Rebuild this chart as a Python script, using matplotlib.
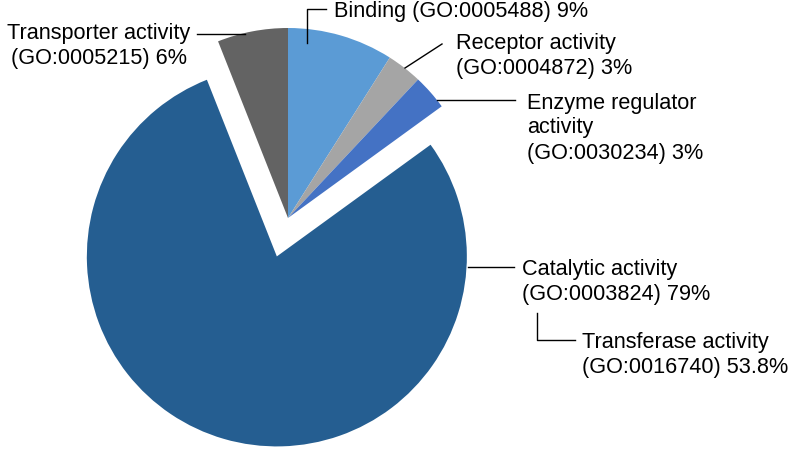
import matplotlib
matplotlib.use('Agg')
import matplotlib.pyplot as plt

# GO molecular function categories, clockwise from 12 o'clock
categories = ['Binding', 'Receptor activity', 'Enzyme regulator activity',
              'Catalytic activity', 'Transporter activity']
go_ids = ['GO:0005488', 'GO:0004872', 'GO:0030234', 'GO:0003824', 'GO:0005215']
percent = [9, 3, 3, 79, 6]
colors = ['#5b9bd5', '#a5a5a5', '#4472c4', '#255e91', '#636363']

sub_category = 'Transferase activity'
sub_go_id = 'GO:0016740'
sub_percent = 53.8

W, H = 792, 451


def Y(y):
    # image pixel row -> axes y
    return H - y


plt.rcParams['font.family'] = ['Liberation Sans', 'DejaVu Sans']

fig = plt.figure(figsize=(W / 100, H / 100), dpi=100)
ax = fig.add_axes([0, 0, 1, 1])

explode = [0, 0, 0, 40, 0]
ax.pie(percent, colors=colors, startangle=90, counterclock=False,
       radius=190, center=(288, Y(218)), explode=explode,
       wedgeprops=dict(linewidth=0))

ax.set_xlim(0, W)
ax.set_ylim(0, H)
ax.set_aspect('equal')
ax.axis('off')

fs = 15.6
line_kw = dict(color='black', linewidth=1)
txt_kw = dict(fontsize=fs, linespacing=1.25, va='center')

# Transporter
ax.plot([197, 245], [Y(34), Y(34)], **line_kw)
ax.text(99, Y(46), f'{categories[4]}\n({go_ids[4]}) {percent[4]}%',
        ha='center', multialignment='center', **txt_kw)

# Binding
ax.plot([307, 307, 326], [Y(43), Y(9), Y(9)], **line_kw)
ax.text(334, Y(12), f'{categories[0]} ({go_ids[0]}) {percent[0]}%',
        ha='left', **txt_kw)

# Receptor
ax.plot([405, 442], [Y(68), Y(44)], **line_kw)
ax.text(456, Y(56), f'Receptor activity\n({go_ids[1]}) {percent[1]}%',
        ha='left', **txt_kw)

# Enzyme regulator
ax.plot([437, 515], [Y(100), Y(100)], **line_kw)
ax.text(527, Y(128), f'Enzyme regulator\nactivity\n({go_ids[2]}) {percent[2]}%',
        ha='left', **txt_kw)

# Catalytic
ax.plot([468, 514], [Y(267), Y(267)], **line_kw)
ax.text(522, Y(282), f'{categories[3]}\n({go_ids[3]}) {percent[3]}%',
        ha='left', **txt_kw)

# Transferase (subset of catalytic)
ax.plot([537, 537, 575], [Y(313), Y(340), Y(340)], **line_kw)
ax.text(582, Y(355), f'{sub_category}\n({sub_go_id}) {sub_percent}%',
        ha='left', **txt_kw)

fig.savefig('out.png', dpi=100)
plt.close(fig)
